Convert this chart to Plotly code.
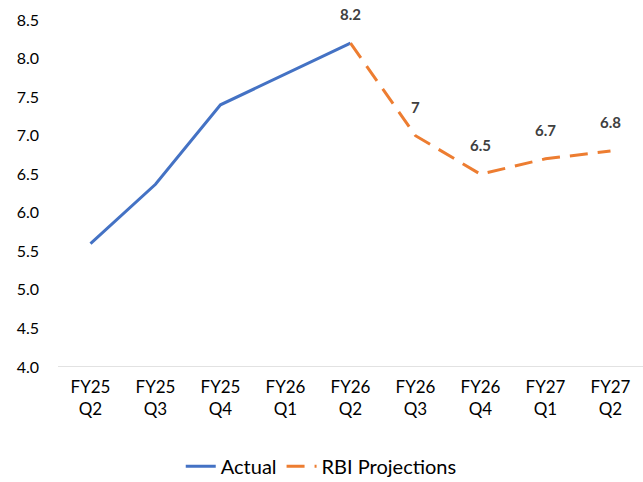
import plotly.graph_objects as go

categories = ["FY25<br>Q2", "FY25<br>Q3", "FY25<br>Q4", "FY26<br>Q1", "FY26<br>Q2",
              "FY26<br>Q3", "FY26<br>Q4", "FY27<br>Q1", "FY27<br>Q2"]
actual_cats = categories[:5]
actual_vals = [5.6, 6.37, 7.4, 7.8, 8.2]
proj_cats = categories[4:]
proj_vals = [8.2, 7.0, 6.5, 6.7, 6.8]
proj_labels = ["8.2", "7", "6.5", "6.7", "6.8"]
y_ticks = [4.0, 4.5, 5.0, 5.5, 6.0, 6.5, 7.0, 7.5, 8.0, 8.5]

FONT = "Lato"

fig = go.Figure()
fig.add_trace(go.Scatter(x=actual_cats, y=actual_vals, mode="lines", name="Actual",
                         line=dict(color="#4472C4", width=3)))
fig.add_trace(go.Scatter(x=proj_cats, y=proj_vals, mode="lines", name="RBI Projections",
                         line=dict(color="#ED7D31", width=3, dash="18px,10px")))

for c, v, t in zip(proj_cats, proj_vals, proj_labels):
    fig.add_annotation(x=c, y=v, text=f"<b>{t}</b>", showarrow=False, yshift=29,
                       font=dict(family=FONT, size=15, color="#404040"))

fig.update_layout(
    width=643, height=482,
    margin=dict(l=58, r=0, t=20, b=115, autoexpand=False),
    plot_bgcolor="white", paper_bgcolor="white",
    font=dict(family=FONT, size=16, color="#000000"),
    showlegend=True,
    legend=dict(orientation="h", x=0.45, xanchor="center", y=-0.23, yanchor="top",
                font=dict(family=FONT, size=20, color="#000000")),
    xaxis=dict(categoryorder="array", categoryarray=categories, range=[-0.5, 8.5],
               showgrid=False, showline=False, ticks="", zeroline=False,
               ticklabelstandoff=8,
               tickfont=dict(family=FONT, size=17, color="#000000")),
    yaxis=dict(range=[4.0, 8.5], tickvals=y_ticks, ticktext=[f"{v:.1f}" for v in y_ticks],
               showgrid=False, zeroline=False, showline=False, ticks="",
               ticklabelstandoff=18,
               tickfont=dict(family=FONT, size=16, color="#000000")),
)
fig.add_shape(type="line", xref="paper", yref="y", x0=0, x1=1, y0=4.0, y1=4.0,
              line=dict(color="#D9D9D9", width=1.5))

fig.write_html("out.html", config={"displayModeBar": False})
with open("out.html", "r", encoding="utf-8") as f:
    html = f.read()
html = html.replace("<head>", "<head><style>html,body{margin:0;padding:0;overflow:hidden}</style>", 1)
with open("out.html", "w", encoding="utf-8") as f:
    f.write(html)
